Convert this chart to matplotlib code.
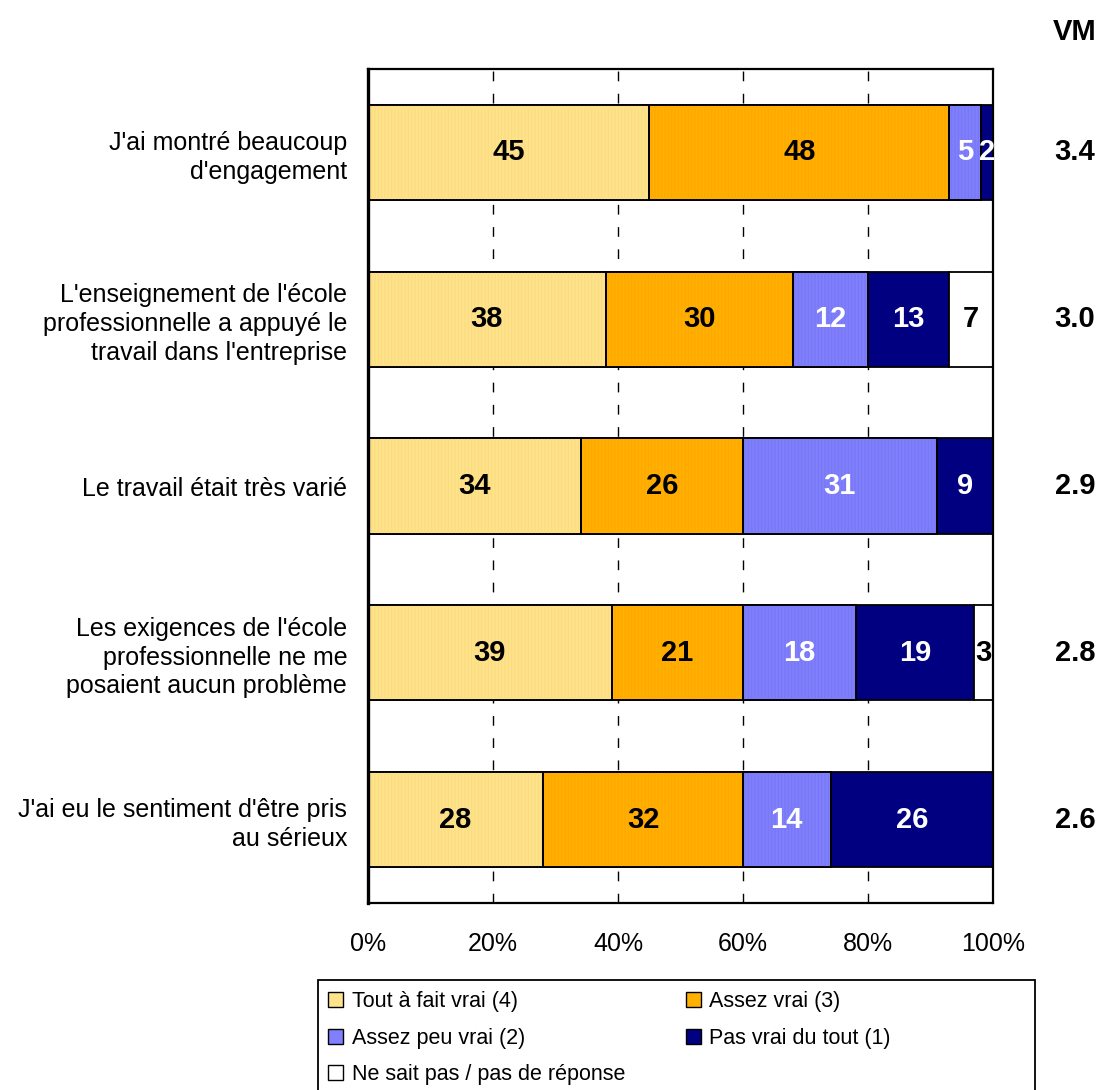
import numpy as np
import matplotlib.pyplot as plt
from matplotlib.patches import Patch, Rectangle
import matplotlib.transforms as mtransforms

plt.rcParams['font.family'] = ['Liberation Sans', 'DejaVu Sans']

# Survey items, top to bottom
items = [
    "J'ai montré beaucoup\nd'engagement",
    "L'enseignement de l'école\nprofessionnelle a appuyé le\ntravail dans l'entreprise",
    "Le travail était très varié",
    "Les exigences de l'école\nprofessionnelle ne me\nposaient aucun problème",
    "J'ai eu le sentiment d'être pris\nau sérieux",
]

# Percentages per answer category
tout_a_fait = [45, 38, 34, 39, 28]
assez_vrai = [48, 30, 26, 21, 32]
assez_peu = [5, 12, 31, 18, 14]
pas_vrai = [2, 13, 9, 19, 26]
ne_sait_pas = [0, 7, 0, 3, 0]

# Mean values (VM)
vm = [3.4, 3.0, 2.9, 2.8, 2.6]

series = [tout_a_fait, assez_vrai, assez_peu, pas_vrai, ne_sait_pas]
names = ['Tout à fait vrai (4)', 'Assez vrai (3)', 'Assez peu vrai (2)',
         'Pas vrai du tout (1)', 'Ne sait pas / pas de réponse']
colors = ['#FFE38C', '#FFB000', '#8080FF', '#000080', '#FFFFFF']
stripes = ['#FBDC80', '#FFA800', '#7878F4', None, None]
text_colors = ['black', 'black', 'white', 'white', 'black']

fig = plt.figure(figsize=(10.96, 10.90), dpi=100)
ax = fig.add_axes([368 / 1096, 1 - 903 / 1090, 625 / 1096, 834 / 1090])

y = np.arange(len(items))
left = np.zeros(len(items))
for vals, col, stripe, tc in zip(series, colors, stripes, text_colors):
    vals = np.array(vals, dtype=float)
    ax.barh(y, vals, left=left, height=0.57, color=col,
            edgecolor='black', linewidth=1.3, zorder=2)
    if stripe is not None:
        # fine vertical texture on the filled segments
        ax.barh(y, vals, left=left, height=0.57, color='none',
                edgecolor=stripe, linewidth=0, hatch='|||||', zorder=2.5)
        ax.barh(y, vals, left=left, height=0.57, color='none',
                edgecolor='black', linewidth=1.3, zorder=2.6)
    for yi, v, l in zip(y, vals, left):
        if v > 0:
            ax.text(l + v / 2, yi, f'{v:.0f}', ha='center', va='center',
                    fontsize=21, fontweight='bold', color=tc, zorder=3)
    left += vals

ax.set_xlim(0, 100)
ax.set_ylim(len(items) - 0.5, -0.5)
ax.set_xticks([0, 20, 40, 60, 80, 100])
ax.set_xticklabels(['0%', '20%', '40%', '60%', '80%', '100%'], fontsize=18)
ax.set_yticks(y)
ax.set_yticklabels(items, fontsize=18, linespacing=1.25)
ax.tick_params(axis='x', length=0, pad=21)
ax.tick_params(axis='y', length=0, pad=15)

for gx in [20, 40, 60, 80]:
    ax.axvline(gx, color='black', linewidth=1, linestyle=(0, (7, 9)), zorder=1)

for side in ['top', 'right', 'bottom']:
    ax.spines[side].set_linewidth(1.6)
ax.spines['left'].set_linewidth(2.4)

# VM column on the right
trans = mtransforms.blended_transform_factory(ax.transAxes, ax.transData)
for yi, v in zip(y, vm):
    ax.text(1.131, yi, f'{v:.1f}', transform=trans, ha='center', va='center',
            fontsize=21, fontweight='bold')
fig.text(1075 / 1096, 1 - 32 / 1090, 'VM', ha='center', va='center',
         fontsize=21, fontweight='bold')

# legend frame runs past the bottom edge
fig.patches.append(Rectangle((318 / 1096, -0.05), 717 / 1096, 0.05 + (1090 - 980) / 1090,
                             transform=fig.transFigure, fill=False,
                             edgecolor='black', linewidth=1.3))
handles = [Patch(facecolor=c, edgecolor='black', linewidth=1) for c in colors]
order = [0, 2, 4, 1, 3]
fig.legend([handles[i] for i in order], [names[i] for i in order],
           loc='upper left', bbox_to_anchor=(324 / 1096, 1 - 987 / 1090),
           ncol=2, frameon=False, prop={'size': 15.5},
           handlelength=0.7, handleheight=0.7, handletextpad=0.4,
           labelspacing=0.72, columnspacing=2.8, borderpad=0.2, borderaxespad=0)

fig.savefig('out.png', dpi=100)
